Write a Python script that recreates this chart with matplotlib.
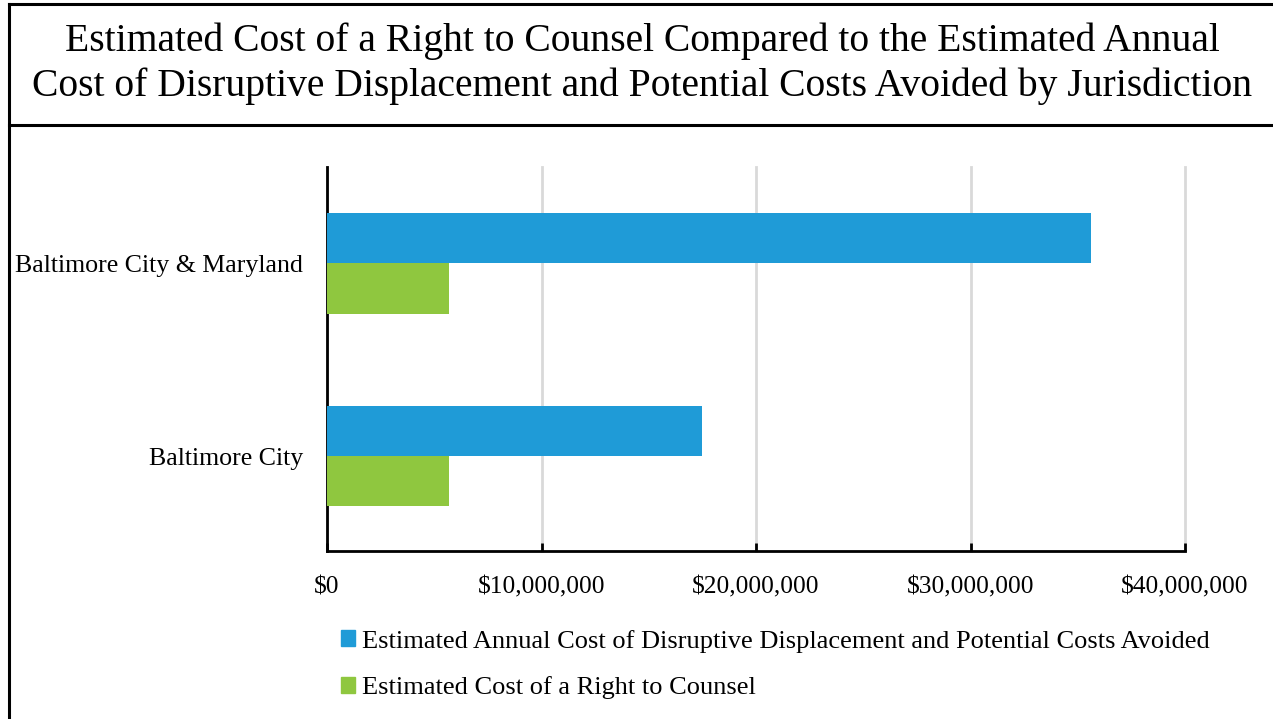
import matplotlib
matplotlib.use('Agg')
import matplotlib.pyplot as plt
from matplotlib.patches import Patch
from matplotlib.lines import Line2D
from matplotlib.ticker import FuncFormatter, MultipleLocator

plt.rcParams['font.family'] = ['Liberation Serif', 'DejaVu Serif']

# data
jurisdictions = ['Baltimore City', 'Baltimore City & Maryland']
displacement_cost = [17.5e6, 35.6e6]
counsel_cost = [5.7e6, 5.7e6]
series_names = ['Estimated Annual Cost of Disruptive Displacement and Potential Costs Avoided',
                'Estimated Cost of a Right to Counsel']
title_lines = ['Estimated Cost of a Right to Counsel Compared to the Estimated Annual',
               'Cost of Disruptive Displacement and Potential Costs Avoided by Jurisdiction']
colors = ['#1f9bd7', '#8fc73f']

W, H = 1273, 719
fig = plt.figure(figsize=(W / 100, H / 100), dpi=100)
ax = fig.add_axes([327 / W, 1 - 551 / H, (1185 - 327) / W, (551 - 167) / H])

bar_h = 0.262
ypos = list(range(len(jurisdictions)))
ax.barh([y + bar_h / 2 for y in ypos], displacement_cost, height=bar_h, color=colors[0], zorder=3)
ax.barh([y - bar_h / 2 for y in ypos], counsel_cost, height=bar_h, color=colors[1], zorder=3)

ax.set_xlim(0, 40e6)
ax.set_ylim(-0.493, 1.5)
ax.xaxis.set_major_locator(MultipleLocator(10e6))
ax.xaxis.set_major_formatter(FuncFormatter(lambda v, p: '${:,.0f}'.format(v)))
ax.set_yticks(ypos)
ax.set_yticklabels(jurisdictions)

ax.grid(axis='x', color='#d9d9d9', linewidth=2, zorder=0)
for gl in ax.xaxis.get_gridlines():
    gl.set_clip_on(False)
ax.set_axisbelow(True)
for s in ['top', 'right']:
    ax.spines[s].set_visible(False)
for s in ['left', 'bottom']:
    ax.spines[s].set_linewidth(2)
ax.tick_params(axis='x', direction='in', length=6, width=2, pad=18.6, labelsize=18.4)
ax.tick_params(axis='y', length=0, pad=17.3, labelsize=18.6)

handles = [Patch(color=c) for c in colors]
fig.legend(handles, series_names, loc='upper left', bbox_to_anchor=(330.5 / W, 1 - 619 / H),
           frameon=False, fontsize=19, handlelength=0.53, handleheight=0.53,
           handletextpad=0.27, labelspacing=0.9, borderaxespad=0)

fig.text(642 / W, 1 - 41 / H, title_lines[0], ha='center', va='center', fontsize=28.5)
fig.text(642 / W, 1 - 86 / H, title_lines[1], ha='center', va='center', fontsize=28.5)

# frame lines around the title block
fig.add_artist(Line2D([9 / W, 9 / W], [0, 1 - 4 / H], color='black', lw=2.2))
fig.add_artist(Line2D([9 / W, 1], [1 - 4 / H, 1 - 4 / H], color='black', lw=2.2))
fig.add_artist(Line2D([9 / W, 1], [1 - 125 / H, 1 - 125 / H], color='black', lw=2.2))

fig.savefig('out.png', dpi=100)
